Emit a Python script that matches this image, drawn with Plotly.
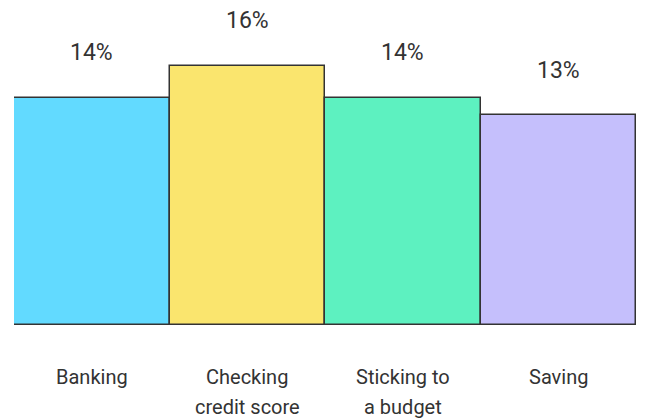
import plotly.graph_objects as go

categories = ["Banking", "Checking credit score", "Sticking to a budget", "Saving"]
label_lines = [["Banking"], ["Checking", "credit score"], ["Sticking to", "a budget"], ["Saving"]]
values = [14.2, 16.2, 14.2, 13.1]
value_labels = ["14%", "16%", "14%", "13%"]
colors = ["#62DAFF", "#FAE56E", "#5DF1C0", "#C5BFFC"]

fig = go.Figure()
fig.add_trace(go.Bar(
    x=categories, y=values,
    marker=dict(color=colors, line=dict(color="#333333", width=1.5)),
    width=1.0,
    hoverinfo="skip",
))

annotations = []
for c, v, t in zip(categories, values, value_labels):
    annotations.append(dict(x=c, y=v, text=t, showarrow=False, yshift=45,
                            font=dict(family="Roboto", size=23, color="#333333"),
                            xanchor="center", yanchor="middle"))
for c, lines in zip(categories, label_lines):
    for i, ln in enumerate(lines):
        annotations.append(dict(x=c, y=0, text=ln, showarrow=False, yshift=-52 - 30 * i,
                                font=dict(family="Roboto", size=20, color="#333333"),
                                xanchor="center", yanchor="middle"))

fig.update_layout(
    width=629, height=412,
    margin=dict(l=6, r=1, t=12, b=95),
    paper_bgcolor="white", plot_bgcolor="white",
    showlegend=False,
    bargap=0,
    xaxis=dict(showticklabels=False, showgrid=False, zeroline=False, showline=False, ticks=""),
    yaxis=dict(range=[0, 305 / 16], showticklabels=False, showgrid=False, zeroline=False, showline=False),
    annotations=annotations,
)

fig.write_html("out.html")
